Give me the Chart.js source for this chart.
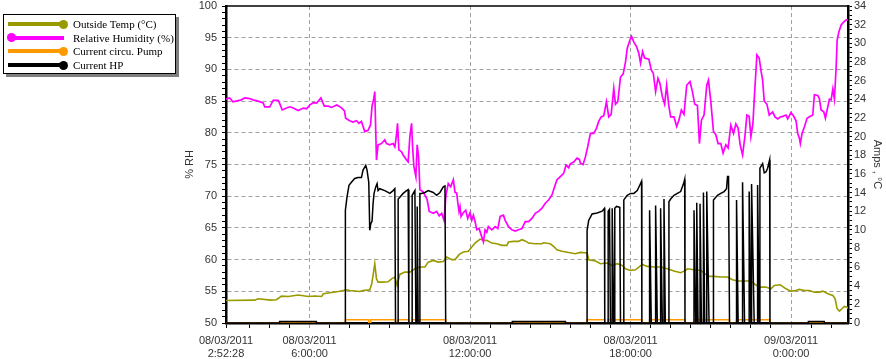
<!DOCTYPE html>
<html><head><meta charset="utf-8">
<script src="https://cdn.jsdelivr.net/npm/chart.js@4.4.1/dist/chart.umd.min.js"></script>
<style>
html,body{margin:0;padding:0;background:#fff;}
#wrap{position:relative;width:886px;height:359px;overflow:hidden;}
#c{position:absolute;left:0;top:0;}
#legend{position:absolute;left:3px;top:14px;width:171px;height:58px;border:1px solid #000;background:#fff;box-shadow:3px 3px 0 #7f7f7f;font-family:"Liberation Serif","Times New Roman",serif;font-size:11px;color:#000;}
.ln{position:absolute;left:4px;width:56px;height:4px;}
.dot{position:absolute;width:9px;height:9px;border-radius:50%;}
.txt{position:absolute;left:69px;line-height:14px;white-space:nowrap;}
</style></head>
<body><div id="wrap"><canvas id="c" width="886" height="359"></canvas><div id="legend"></div></div>
<script>
// ---- data (time in hours from 08/03/2011 00:00) ----
const xStart = 2.87444;   // 08/03/2011 2:52:28
const xEnd = 26.13;
const xTickHours = [2.87444, 6, 12, 18, 24];
const xTickDates = ['08/03/2011','08/03/2011','08/03/2011','08/03/2011','09/03/2011'];
const xTickTimes = ['2:52:28','6:00:00','12:00:00','18:00:00','0:00:00'];

const seriesNames = ['Outside Temp (°C)','Relative Humidity (%)','Current circu. Pump','Current HP'];
const seriesColors = ['#999900','#ff00ff','#ff9900','#000000'];

const rhHours = [
2.875,2.924,3.010,3.138,3.449,3.573,3.760,3.888,4.075,4.263,
4.323,4.510,4.638,4.825,4.885,4.975,5.137,5.260,5.388,5.575,
5.763,5.887,6.010,6.138,6.262,6.423,6.550,6.700,6.824,7.012,
7.098,7.199,7.300,7.349,7.499,7.623,7.750,7.848,7.938,8.062,
8.185,8.275,8.335,8.399,8.437,8.463,8.500,8.560,8.688,8.812,
8.875,8.999,9.123,9.187,9.250,9.288,9.337,9.438,9.498,9.625,
9.685,9.749,9.813,9.850,9.899,9.974,10.023,10.075,10.124,10.248,
10.349,10.398,10.473,10.623,10.750,10.848,10.938,11.024,11.099,11.185,
11.275,11.373,11.437,11.500,11.538,11.587,11.624,11.662,11.748,11.838,
11.913,11.999,12.063,12.123,12.187,12.250,12.337,12.412,12.498,12.562,
12.625,12.685,12.813,12.937,13.038,13.124,13.248,13.312,13.435,13.563,
13.687,13.810,13.938,14.062,14.185,14.313,14.437,14.560,14.688,14.812,
14.935,15.063,15.160,15.250,15.374,15.498,15.588,15.685,15.749,15.873,
16.000,16.087,16.124,16.225,16.312,16.398,16.499,16.623,16.724,16.810,
16.900,16.998,17.099,17.185,17.275,17.373,17.437,17.523,17.624,17.725,
17.812,17.875,17.973,18.037,18.123,18.224,18.310,18.374,18.449,18.524,
18.685,18.775,18.850,18.937,19.023,19.098,19.188,19.274,19.349,19.424,
19.499,19.623,19.724,19.810,19.900,19.998,20.099,20.223,20.313,20.399,
20.500,20.575,20.650,20.748,20.849,20.913,20.999,21.100,21.187,21.273,
21.374,21.460,21.562,21.648,21.749,21.850,21.937,22.023,22.098,22.188,
22.274,22.349,22.435,22.499,22.574,22.623,22.724,22.810,22.874,22.938,
22.998,23.099,23.185,23.313,23.399,23.500,23.598,23.688,23.812,23.875,
23.999,24.100,24.187,24.250,24.310,24.348,24.412,24.498,24.599,24.723,
24.813,24.873,25.000,25.060,25.124,25.225,25.285,25.349,25.435,25.499,
25.563,25.623,25.687,25.724,25.788,25.874,25.975,26.062,26.130];
const rhValues = [
85.3,85.4,85.5,84.9,85.2,85.5,85.4,85.2,85.0,84.7,
84.1,84.1,85.1,85.1,84.6,83.6,83.9,84.1,83.9,83.5,
83.9,83.8,84.4,84.75,84.7,85.5,84.2,84.2,84.0,84.4,
84.2,83.9,83.5,82.3,81.9,81.7,81.9,81.5,81.8,80.2,
80.4,81.2,84.2,85.4,86.5,82.0,75.7,78.1,78.3,78.9,
78.3,78.1,78.3,77.8,79.7,81.5,77.3,77.0,76.5,75.7,
75.4,79.4,81.5,77.8,74.7,73.1,78.1,76.2,71.0,70.7,
69.9,69.4,67.6,67.3,67.6,66.9,67.3,66.2,70.2,72.0,
71.5,72.6,70.6,70.5,69.1,67.6,68.3,66.8,67.4,67.8,
66.5,67.4,66.2,67.0,66.0,64.7,64.9,63.9,62.8,64.7,
64.3,65.2,64.7,65.2,64.9,66.8,67.0,66.2,65.2,64.7,
64.5,64.7,64.9,66.0,66.0,66.5,67.3,67.6,68.1,68.9,
69.4,70.2,71.5,72.6,73.1,73.6,74.9,74.5,75.1,75.4,
76.0,75.8,75.2,75.0,76.2,77.8,79.9,79.9,80.7,81.8,
82.5,82.7,84.9,82.5,82.9,87.0,84.5,84.9,88.8,89.3,
91.2,93.3,94.6,95.2,94.3,93.6,92.5,91.0,92.8,91.8,
91.6,89.9,89.4,86.5,88.6,87.8,85.7,84.5,87.5,84.5,
82.5,82.5,81.0,82.0,83.6,82.9,87.5,88.1,86.5,84.5,
84.3,78.3,82.0,82.8,87.5,88.3,85.0,80.2,79.7,78.3,
78.3,76.8,78.1,77.6,81.2,79.9,81.4,80.7,78.1,76.5,
79.4,82.8,82.6,79.4,81.4,85.2,92.3,91.8,89.9,88.3,
85.0,84.5,82.8,83.3,82.5,82.2,82.5,82.6,82.8,82.2,
83.2,82.6,81.9,79.9,79.2,78.3,79.9,80.9,82.3,82.6,
82.8,86.0,85.9,85.4,83.6,83.3,82.3,83.6,85.3,85.2,
86.9,85.3,90.4,94.6,95.9,97.0,97.5,97.8,97.8];

const tempHours = [
2.875,3.948,4.075,4.548,4.762,4.949,5.200,5.575,5.950,6.198,
6.449,6.513,6.824,7.075,7.263,7.387,7.499,7.874,7.998,8.249,
8.324,8.373,8.437,8.500,8.560,8.748,8.935,9.063,9.187,9.273,
9.374,9.562,9.749,9.937,10.124,10.312,10.435,10.623,10.810,10.998,
11.125,11.313,11.437,11.598,11.748,11.935,12.063,12.187,12.374,12.498,
12.625,12.813,13.000,13.188,13.375,13.435,13.623,13.810,13.938,14.062,
14.185,14.437,14.688,14.748,14.999,15.123,15.250,15.438,15.685,15.937,
16.124,16.375,16.435,16.687,16.874,17.125,17.313,17.500,17.688,17.812,
17.999,18.187,18.438,18.625,18.873,19.124,19.375,19.623,19.874,20.062,
20.125,20.373,20.624,20.812,20.935,21.123,21.374,21.625,21.813,22.000,
22.248,22.499,22.623,22.810,23.062,23.249,23.373,23.598,23.812,23.999,
24.187,24.310,24.498,24.685,24.873,25.060,25.188,25.375,25.563,25.649,
25.724,25.810,25.900,25.998,26.099,26.130];
const tempValues = [
2.42,2.45,2.6,2.45,2.5,2.88,2.85,3.0,2.85,2.9,
2.85,3.13,3.28,3.38,3.49,3.57,3.49,3.38,3.49,3.55,
4.21,5.1,6.36,4.74,4.38,4.38,4.42,4.74,4.92,4.03,
5.21,5.46,5.46,5.82,6.0,6.0,6.53,6.71,6.53,6.6,
7.07,6.8,6.8,7.36,7.61,7.7,8.14,8.57,9.0,8.86,
8.86,8.57,8.5,8.33,8.33,8.68,8.75,8.75,8.93,8.8,
8.57,8.5,8.5,8.6,8.5,8.22,7.86,7.7,7.57,7.43,
7.57,7.5,6.79,6.65,6.36,6.43,6.18,6.36,6.18,5.82,
5.64,5.71,6.28,6.07,6.0,6.0,5.82,5.57,5.39,5.64,
5.82,5.71,5.64,5.21,5.0,5.0,4.93,4.93,4.64,4.5,
4.5,4.5,4.21,3.85,3.85,3.67,4.03,4.1,3.67,3.42,
3.49,3.6,3.49,3.49,3.31,3.31,3.42,3.13,2.95,2.6,
1.53,1.27,1.53,1.77,1.7,1.53];

const hpHours = [
2.875,4.87,4.88,6.25,6.26,7.337,7.338,7.398,7.473,7.563,
7.687,7.810,7.938,7.998,8.099,8.148,8.212,8.249,8.287,8.335,
8.373,8.410,8.474,8.523,8.560,8.624,8.812,8.935,8.999,9.123,
9.187,9.213,9.310,9.311,9.374,9.498,9.625,9.685,9.712,9.834,
9.835,9.937,9.974,10.022,10.023,10.060,10.123,10.124,10.188,10.312,
10.435,10.623,10.750,10.874,10.998,11.062,11.088,13.57,13.58,15.56,
15.57,16.374,16.375,16.435,16.563,16.750,16.938,17.024,17.035,17.162,
17.163,17.212,17.249,17.312,17.313,17.373,17.409,17.410,17.474,17.598,
17.624,17.747,17.748,17.875,17.999,18.123,18.250,18.348,18.412,18.423,
18.711,18.712,18.775,18.936,18.937,19.000,19.123,19.124,19.188,19.249,
19.250,19.300,19.434,19.435,19.499,19.623,19.750,19.874,19.998,20.024,
20.035,20.372,20.373,20.437,20.473,20.474,20.524,20.597,20.598,20.650,
20.724,20.725,20.774,20.848,20.849,20.935,21.099,21.100,21.250,21.374,
21.498,21.588,21.625,21.663,21.700,21.962,21.963,22.023,22.187,22.188,
22.263,22.434,22.435,22.499,22.524,22.525,22.623,22.749,22.750,22.810,
22.836,22.837,22.938,22.998,23.062,23.125,23.200,23.212,24.64,24.65,
25.24,25.25,26.130];
const hpValues = [
0,0,0.15,0.15,0,0,12.1,13.5,14.77,15.1,
15.5,15.6,15.6,16.4,16.9,16.4,15.1,9.94,10.66,10.9,
12.8,13.9,14.6,14.95,14.2,14.4,14.2,14.0,13.9,14.2,
14.4,0,0,13.3,13.5,13.9,14.2,14.3,0,0,
13.7,14.2,0,0,12.5,0,0,13.9,13.9,14.0,
14.2,14.0,13.7,14.0,14.6,14.7,0,0,0.15,0.15,
0,0,9.94,11.0,11.7,11.8,12.0,12.3,0,0,
12.0,12.2,0,0,12.3,0,0,12.3,12.5,12.4,
0,0,13.2,13.7,13.9,13.9,14.2,14.8,15.2,0,
0,12.1,0,0,12.6,0,0,12.3,0,0,
13.3,0,0,13.0,13.3,13.7,13.9,14.1,15.1,15.4,
0,0,12.1,0,0,12.9,0,0,12.8,0,
0,14.0,0,0,14.1,0,0,13.2,13.7,13.9,
14.1,14.4,15.7,15.7,0,0,13.2,0,0,15.1,
0,0,14.1,0,0,14.9,0,0,14.8,0,
0,16.6,17.1,16.1,16.2,16.6,17.5,0,0,0.15,
0.15,0,0];

const pumpHours = [
2.875,7.337,7.338,8.212,8.213,8.286,8.287,9.213,9.214,9.309,
9.310,9.712,9.713,9.834,9.835,9.974,9.975,10.123,10.124,11.088,
11.089,16.374,16.375,17.035,17.036,17.162,17.163,18.423,18.424,18.711,
18.712,20.035,20.036,20.372,20.373,21.700,21.701,21.962,21.963,23.212,
23.213,26.130];
const pumpValues = [
0,0,0.35,0.35,0,0,0.35,0.35,0,0,
0.35,0.35,0,0,0.35,0.35,0,0,0.35,0.35,
0,0,0.35,0.35,0,0,0.35,0.35,0,0,
0.35,0.35,0,0,0.35,0.35,0,0,0.35,0.35,
0,0];

// ---- helpers ----
const toXY = (xs, ys) => xs.map((x, i) => ({x: x, y: ys[i]}));
const near = (a, b) => Math.abs(a - b) < 1e-6;
const isMajorX = v => xTickHours.some(h => near(h, v));
const xMinor = [];
for (let v = 6 - 0.75; v > xStart + 0.5; v -= 0.75) xMinor.push(v);
for (let v = 6.75; v < xEnd; v += 0.75) if (!xTickHours.some(h => near(h, v))) xMinor.push(v);
const xAllTicks = xTickHours.concat(xMinor).sort((a, b) => a - b);

const FONT = {family: '"Liberation Sans", Arial, sans-serif', size: 11};
const TXT = '#333333';
const GRID = '#a0a0a0';
const CLEAR = 'rgba(0,0,0,0)';

function mkDs(i, xs, ys, axis, width, order) {
  return {label: seriesNames[i], data: toXY(xs, ys), borderColor: seriesColors[i],
    backgroundColor: seriesColors[i], borderWidth: width, pointRadius: 0, tension: 0,
    fill: false, yAxisID: axis, order: order};
}

const framePlugin = {
  id: 'frame',
  afterDatasetsDraw(chart) {
    const {ctx, chartArea: a} = chart;
    ctx.save();
    ctx.strokeStyle = '#000';
    ctx.lineWidth = 1.5;
    ctx.beginPath();
    ctx.moveTo(a.left, a.top);
    ctx.lineTo(a.right, a.top);
    ctx.stroke();
    ctx.restore();
  }
};

new Chart(document.getElementById('c'), {
  type: 'line',
  data: {
    datasets: [
      mkDs(0, tempHours, tempValues, 'y2', 1.6, 3),
      mkDs(1, rhHours, rhValues, 'y', 1.7, 2),
      mkDs(2, pumpHours, pumpValues, 'y2', 1.5, 4),
      mkDs(3, hpHours, hpValues, 'y2', 1.5, 1)
    ]
  },
  options: {
    responsive: false, animation: false, devicePixelRatio: 1,
    layout: {padding: {left: 180, right: 0, top: 6, bottom: 0}},
    plugins: {legend: {display: false}, tooltip: {enabled: false}},
    scales: {
      x: {
        type: 'linear', position: 'bottom', min: xStart, max: xEnd,
        afterBuildTicks: s => { s.ticks = xAllTicks.map(v => ({value: v})); },
        afterFit: s => { s.height = 36; s.paddingLeft = 0; s.paddingRight = 0; },
        ticks: {
          autoSkip: false, maxRotation: 0, minRotation: 0, padding: 6, color: TXT, font: FONT,
          callback: v => {
            const i = xTickHours.findIndex(h => near(h, v));
            return i >= 0 ? [xTickDates[i], xTickTimes[i]] : '';
          }
        },
        grid: {
          color: c => (c.tick && isMajorX(c.tick.value) && c.index > 0) ? GRID : CLEAR,
          tickColor: c => (c.tick && isMajorX(c.tick.value) && c.index > 0) ? GRID : '#000',
          tickLength: 5, lineWidth: 1
        },
        border: {color: '#000', width: 2.5, dash: [4, 3]}
      },
      y: {
        type: 'linear', position: 'left', min: 50, max: 100,
        afterBuildTicks: s => { const t = []; for (let v = 50; v <= 100; v++) t.push({value: v}); s.ticks = t; },
        afterFit: s => { s.width = 46; s.paddingTop = 0; s.paddingBottom = 0; },
        ticks: {autoSkip: false, padding: 5, color: TXT, font: FONT,
          callback: v => (v % 5 === 0 ? String(v) : '')},
        grid: {
          color: c => (c.tick && c.tick.value % 5 === 0 && c.tick.value > 50 && c.tick.value < 100) ? GRID : CLEAR,
          tickColor: '#000', tickLength: 4, lineWidth: 1
        },
        border: {color: '#000', width: 2.5, dash: [4, 3]},
        title: {display: true, text: '% RH', color: TXT, font: FONT, padding: {top: 3, bottom: 0}}
      },
      y2: {
        type: 'linear', position: 'right', min: 0, max: 34,
        afterBuildTicks: s => { const t = []; for (let v = 0; v <= 34; v += 0.5) t.push({value: v}); s.ticks = t; },
        afterFit: s => { s.width = 38; s.paddingTop = 0; s.paddingBottom = 0; },
        ticks: {autoSkip: false, padding: 2, color: TXT, font: FONT,
          callback: v => (v % 2 === 0 ? String(v) : '')},
        grid: {drawOnChartArea: false, color: CLEAR, tickColor: '#000', tickLength: 4},
        border: {color: '#000', width: 2.5},
        title: {display: true, text: 'Amps , °C', color: TXT, font: FONT, padding: {top: 2, bottom: 0}}
      }
    }
  },
  plugins: [framePlugin]
});

// ---- legend ----
const lg = document.getElementById('legend');
const dotLeft = [false, true, false, false];
seriesNames.forEach((name, i) => {
  const cy = 9 + i * 13.7;
  const ln = document.createElement('div');
  ln.className = 'ln'; ln.style.top = (cy - 2) + 'px'; ln.style.background = seriesColors[i];
  const dt = document.createElement('div');
  dt.className = 'dot'; dt.style.top = (cy - 4.5) + 'px'; dt.style.left = (dotLeft[i] ? 3 : 55) + 'px';
  dt.style.background = seriesColors[i];
  const tx = document.createElement('div');
  tx.className = 'txt'; tx.style.top = (cy - 7) + 'px'; tx.textContent = name;
  lg.appendChild(ln); lg.appendChild(dt); lg.appendChild(tx);
});
</script>
</body></html>
